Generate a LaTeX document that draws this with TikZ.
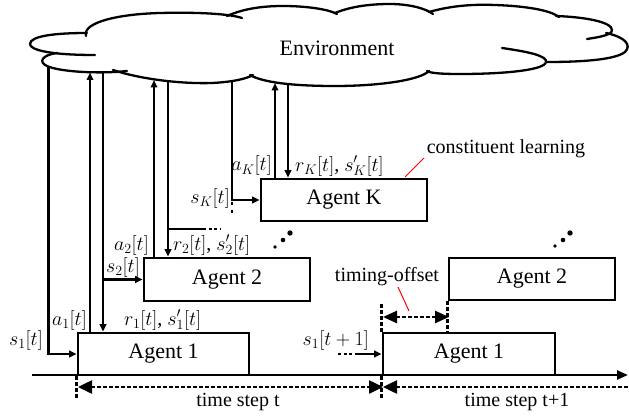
\RequirePackage{fix-cm}
\documentclass[tikz,border=0pt]{standalone}
\usepackage{fontspec}
\setmainfont{Liberation Serif}
\usetikzlibrary{arrows.meta}
\begin{document}
\begin{tikzpicture}[x=1pt,y=-1pt,
  agentbox/.style={draw,line width=2.6pt,fill=white,inner sep=0pt,minimum width=166pt,minimum height=42pt,font=\fontsize{22}{26}\selectfont},
  conn/.style={line width=2.3pt,-{Triangle[length=7.5pt,width=6.5pt]}},
  plain/.style={line width=2.3pt},
  dotline/.style={line width=2.5pt,dash pattern=on 3.5pt off 2.5pt},
  cloudline/.style={line width=2.3pt,line cap=round},
  lab/.style={font=\fontsize{20}{24}\selectfont,inner sep=0pt},
  txt/.style={font=\fontsize{20}{24}\selectfont,inner sep=0pt},
  note/.style={red,line width=1pt},
  dotc/.style={fill=black,inner sep=0pt,circle}
  ]
\useasboundingbox (0,0) rectangle (629,417);

% cloud
\draw[cloudline] (95,55) .. controls (50,55) and (30,50) .. (30,44) .. controls (30,36) and (55,33) .. (87,33);
\draw[cloudline] (86,36) .. controls (82,22) and (120,14) .. (160,13) .. controls (200,12) and (230,14) .. (242,18);
\draw[cloudline] (227,16) .. controls (245,8) and (265,6) .. (283,6) .. controls (305,6) and (328,9) .. (337,14);
\draw[cloudline] (335,13) .. controls (352,6) and (372,4) .. (390,4) .. controls (408,4) and (425,8) .. (433,14);
\draw[cloudline] (429,12) .. controls (450,6) and (472,4) .. (495,5) .. controls (525,6) and (550,10) .. (559,17);
\draw[cloudline] (556,16) .. controls (585,17) and (612,22) .. (612,30) .. controls (612,35) and (600,37) .. (587,39);
\draw[cloudline] (606,33) .. controls (625,37) and (632,45) .. (625,52) .. controls (615,60) and (580,62) .. (547,62);
\draw[cloudline] (502,48) .. controls (530,52) and (547,56) .. (546,62) .. controls (545,70) and (505,74) .. (460,74) .. controls (440,74) and (430,73) .. (427,71);
\draw[cloudline] (429,71) .. controls (420,80) and (380,86) .. (335,86) .. controls (290,86) and (262,82) .. (250,75);
\draw[cloudline] (113,70) .. controls (140,79) and (180,84) .. (212,83) .. controls (232,82) and (246,79) .. (253,75);
\draw[cloudline] (127,71) .. controls (100,74) and (60,72) .. (47,66) .. controls (38,62) and (42,55) .. (57,53);
\node[font=\fontsize{22}{26}\selectfont,inner sep=0pt] (env) at (337,48) {Environment};

% cloud attachment points
\coordinate (c1) at (48.5,66);
\coordinate (c2) at (90,72.5);
\coordinate (c3) at (103,73);
\coordinate (c4) at (154,80);
\coordinate (c5) at (168,82);
\coordinate (c6) at (232,81.5);
\coordinate (c7) at (275,83);
\coordinate (c8) at (288,85);

% time axis
\coordinate (ax0) at (32,375);
\coordinate (ax1) at (628,375);
\draw[line width=2.4pt,-{Triangle[length=11pt,width=9pt]}] (ax0) -- (ax1);

% agents
\node[agentbox,minimum width=171pt] (ag1) at (163.5,354) {Agent 1};
\node[agentbox,minimum height=43pt] (ag2) at (227,279.5) {Agent 2};
\node[agentbox] (agK) at (344,200) {Agent K};
\node[agentbox,minimum width=172pt] (ag1b) at (469,354) {Agent 1};
\node[agentbox] (ag2b) at (532,279) {Agent 2};

% agent 1 connectors
\draw[conn] (c1) |- (ag1.west);
\draw[conn] (ag1.north -| c2) -- (c2);
\draw[conn] (c3) -- (c3 |- ag1.north);
% agent 2 connectors
\draw[conn] (c3 |- ag2.west) -- (ag2.west);
\draw[conn] (ag2.north -| c4) -- (c4);
\draw[conn] (c5) -- (c5 |- ag2.north);
\coordinate (br1) at (203,229);
\coordinate (br2) at (221,229);
\draw[plain] (c5 |- br1) -- (br1);
\draw[line width=2.4pt,dash pattern=on 3pt off 2.5pt] (br1) -- (br2);
% agent K connectors
\draw[conn] (c6) |- (agK.west);
\coordinate (kd1) at (232,202);
\coordinate (kd2) at (232,214);
\draw[line width=2.4pt,dash pattern=on 3pt off 5pt] (kd1) -- (kd2);
\draw[conn] (agK.north -| c7) -- (c7);
\draw[conn] (c8) -- (c8 |- agK.north);
% s1[t+1]
\coordinate (n1) at (338,354);
\coordinate (n2) at (355,354);
\draw[line width=2.4pt,dash pattern=on 3pt off 2.5pt] (n1) -- (n2);
\draw[conn] (n2) -- (ag1b.west);

% dots
\node[dotc,minimum size=3.6pt] (d1) at (275,247) {};
\node[dotc,minimum size=4.6pt] (d2) at (283,240) {};
\node[dotc,minimum size=5.4pt] (d3) at (290,233) {};
\node[dotc,minimum size=3.6pt] (d4) at (555,246) {};
\node[dotc,minimum size=4.6pt] (d5) at (563,240) {};
\node[dotc,minimum size=5.4pt] (d6) at (570,233) {};

% time ticks and spans
\draw[dotline] (ag1.south west) -- ++(0,23);
\draw[dotline] (ag1b.south west) -- ++(0,23);
\draw[dotline] (ag1b.north west) -- ++(0,-28);
\draw[dotline] (ag2b.south west) -- ++(0,33);
\coordinate (ts0) at (78,387);
\coordinate (ts1) at (383,387);
\coordinate (ts2) at (629,387);
\draw[dotline,{Triangle[length=14pt,width=13pt]}-{Triangle[length=14pt,width=13pt]}] (ts0) -- (ts1);
\draw[dotline,{Triangle[length=14pt,width=13pt]}-] (ts1) -- (ts2);
\coordinate (to1) at (383,317);
\coordinate (to2) at (449,317);
\draw[dotline,{Triangle[length=14pt,width=12pt]}-{Triangle[length=14pt,width=12pt]}] (to1) -- (to2);

% labels
\node[lab,anchor=east] (ls1) at (43,340) {$s_1[t]$};
\node[lab,anchor=east] (la1) at (87,320) {$a_1[t]$};
\node[lab,anchor=west] (lr1) at (124,320) {$r_1[t]$, $s'_1[t]$};
\node[lab,anchor=east] (ls2) at (140,267) {$s_2[t]$};
\node[lab,anchor=east] (la2) at (149,245) {$a_2[t]$};
\node[lab,anchor=west] (lr2) at (173,245) {$r_2[t]$, $s'_2[t]$};
\node[lab,anchor=east] (lsK) at (230,198) {$s_K[t]$};
\node[lab,anchor=east] (laK) at (272,166) {$a_K[t]$};
\node[lab,anchor=west] (lrK) at (295,166) {$r_K[t]$, $s'_K[t]$};
\node[lab,anchor=east] (ls1b) at (369,340) {$s_1[t+1]$};

\node[txt] (tso) at (387,277) {timing-offset};
\node[txt] (cl) at (506,149) {constituent learning};
\node[txt] (t1) at (238,402) {time step t};
\node[txt] (t2) at (517,402) {time step t+1};
\coordinate (r1a) at (398,287);
\coordinate (r1b) at (409,311);
\draw[note] (r1a) -- (r1b);
\coordinate (r2a) at (405,177);
\coordinate (r2b) at (424,158);
\draw[note] (r2a) -- (r2b);
\end{tikzpicture}
\end{document}
